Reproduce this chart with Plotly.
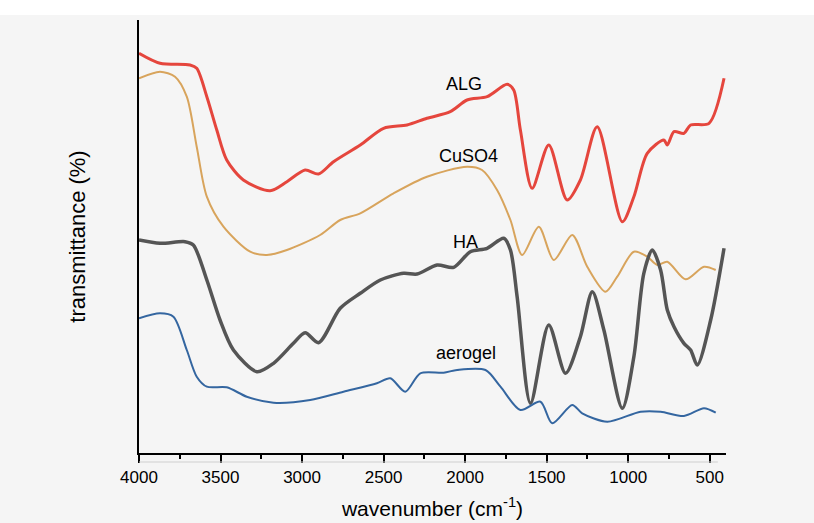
import plotly.graph_objects as go

# wavenumber (cm-1) and relative transmittance (arbitrary offset units)
alg_wn = [4000, 3871, 3687, 3646, 3584, 3523, 3462, 3360, 3196, 3093, 2981, 2899, 2807, 2643, 2500,
          2356, 2234, 2091, 1988, 1865, 1742, 1702, 1661, 1589, 1487, 1374, 1293, 1190, 1036, 965,
          883, 781, 760, 719, 658, 617, 504, 412]
alg_t = [399.7, 389.7, 388, 384.7, 356.3, 323, 293, 273, 262.3, 271.3, 283, 279, 291.3, 308, 324.7,
         328, 334.7, 341.3, 353, 356.3, 368.7, 363, 323, 264.7, 308, 253, 273, 326.3, 231.3, 256.3,
         299.7, 313, 308, 321.3, 319.7, 328, 329.7, 374.7]

cuso4_wn = [4000, 3871, 3779, 3707, 3646, 3584, 3482, 3318, 3216, 3093, 2889, 2766, 2643, 2439, 2234,
            1988, 1896, 1804, 1722, 1650, 1548, 1456, 1343, 1251, 1139, 1067, 965, 883, 821, 760,
            648, 535, 463]
cuso4_t = [374.7, 381.3, 376.3, 356.3, 306.3, 256.3, 226.3, 201.3, 198, 203, 218, 233, 239.7, 259.7, 276.3,
           286.3, 283, 263, 233, 198, 226.3, 193, 218, 186.3, 161.3, 176.3, 201.3, 196.3, 188, 191.3,
           173.7, 186.3, 183]

ha_wn = [4000, 3871, 3718, 3667, 3584, 3503, 3421, 3277, 3175, 3053, 2981, 2899, 2766, 2643, 2520,
         2377, 2295, 2172, 2070, 1968, 1865, 1763, 1722, 1681, 1599, 1487, 1384, 1293, 1220, 1149,
         1036, 965, 904, 852, 801, 760, 719, 658, 617, 576, 494, 412]
ha_t = [213, 209.7, 211.3, 208, 173, 133, 103, 81.3, 89.7, 109.7, 120.3, 110.3, 144.7, 159.7, 173,
        179.7, 179, 188, 185.7, 201.3, 204.7, 214.7, 203, 156.3, 49.7, 128, 79.7, 116.3, 161.3, 123,
        44.7, 96.3, 179.7, 203, 183, 143, 126.3, 109.7, 103, 88, 133, 204.7]

aerogel_wn = [4000, 3871, 3789, 3707, 3646, 3584, 3462, 3339, 3175, 2950, 2746, 2541, 2459, 2367, 2275,
              2132, 2049, 1875, 1783, 1661, 1538, 1466, 1343, 1282, 1128, 924, 801, 658, 535, 463]
aerogel_t = [134.7, 139.7, 136.3, 103, 76.3, 66.3, 65.7, 56.3, 50.3, 53, 61.3, 69.7, 74.7, 61.3, 79.7,
             80.3, 83, 83, 66.3, 43, 51.3, 29.7, 48, 39.7, 31.3, 41.3, 41.3, 37, 44.7, 40.3]

tick_vals = [4000, 3500, 3000, 2500, 2000, 1500, 1000, 500]
tick_text = ["4000", "3500", "3000", "2500", "2000", "1500", "1000", "500"]

labels = ["ALG", "CuSO4", "HA", "aerogel"]
label_wn = [2004, 1981, 1999, 1992]
label_t = [369, 297, 211, 100]

series = [
    ("ALG", alg_wn, alg_t, "#e5463d", 3),
    ("CuSO4", cuso4_wn, cuso4_t, "#d8a45c", 2),
    ("HA", ha_wn, ha_t, "#555555", 3.5),
    ("aerogel", aerogel_wn, aerogel_t, "#3466a0", 2),
]

fig = go.Figure()
for name, xs, ys, col, w in series:
    fig.add_trace(go.Scatter(x=xs, y=ys, mode="lines", name=name,
                             line=dict(color=col, width=w, shape="spline", smoothing=0.8),
                             showlegend=False, hoverinfo="skip"))

for txt, xv, yv in zip(labels, label_wn, label_t):
    fig.add_annotation(x=xv, y=yv, text=txt, showarrow=False,
                       font=dict(family="Liberation Sans, Arial", size=18, color="black"))

# white band along the top edge and faint line under the ticks
fig.add_shape(type="rect", xref="paper", yref="paper", x0=-0.25, x1=1.2, y0=1.0115, y1=1.06,
              line=dict(width=0), fillcolor="white", layer="below")
fig.add_shape(type="line", xref="x", yref="paper", x0=4000, x1=450, y0=-0.0208, y1=-0.0208,
              line=dict(color="#cfcfcf", width=1))

fig.update_layout(
    width=814, height=523,
    margin=dict(l=139, r=88, t=20, b=70),
    paper_bgcolor="#f5f5f5", plot_bgcolor="#f5f5f5",
    font=dict(family="Liberation Sans, Arial", color="black"),
    xaxis=dict(range=[4000, 400], tickvals=tick_vals, ticktext=tick_text, automargin=False,
               showgrid=False, zeroline=False, showline=True, linecolor="black", linewidth=1.5,
               ticks="outside", ticklen=8, tickwidth=1.5, tickcolor="black",
               tickfont=dict(size=17),
               minor=dict(dtick=250, ticks="outside", ticklen=4, tickwidth=1.5, tickcolor="black",
                          showgrid=False),
               title=dict(text="wavenumber (cm<sup>-1</sup>)", font=dict(size=21), standoff=15)),
    yaxis=dict(range=[0, 433], showticklabels=False, ticks="", showgrid=False, zeroline=False,
               showline=True, linecolor="black", linewidth=1.5, automargin=False,
               title=dict(text="transmittance (%)", font=dict(size=22), standoff=46)),
)

fig.write_html("out.html", config={"displayModeBar": False},
               post_script="document.body.style.margin='0';")
